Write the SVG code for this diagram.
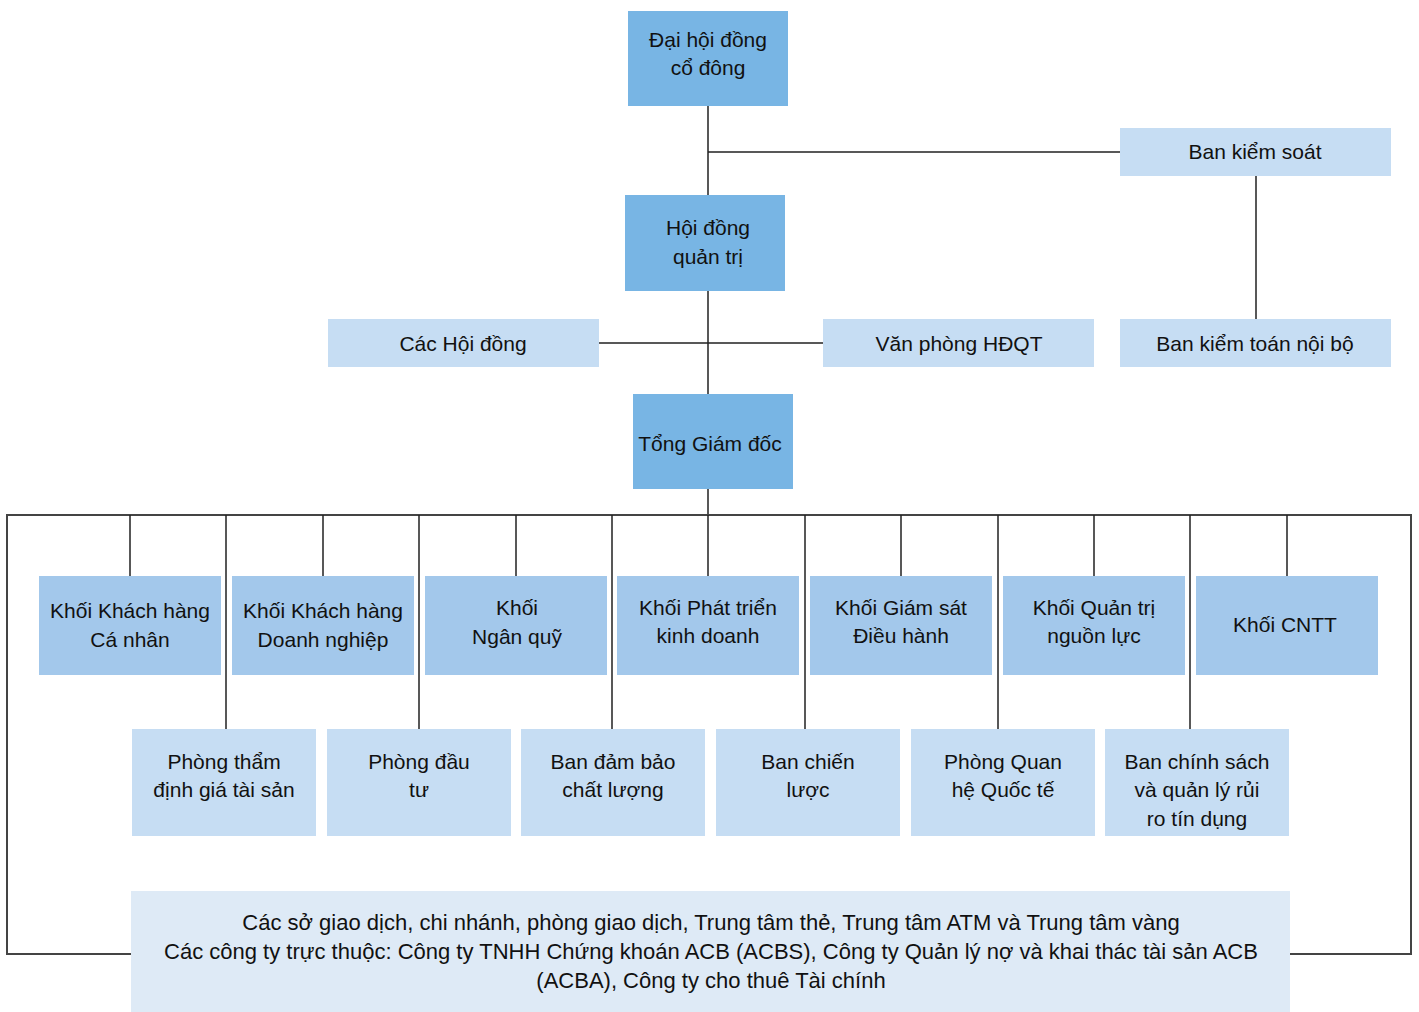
<svg xmlns="http://www.w3.org/2000/svg" width="1419" height="1012" viewBox="0 0 1419 1012">
<style>
.dk{fill:#78b5e4}
.lt{fill:#c6ddf3}
.md{fill:#a3c8eb}
.bt{fill:#deeaf6}
text{font-family:"Liberation Sans","Noto Sans",Arial,sans-serif;font-size:21px;fill:#111;text-anchor:middle}
.big{font-size:22px}
.ln{stroke:#222;stroke-width:1.5;fill:none}
.fr{stroke:#444;stroke-width:2;fill:none}
</style>
<rect width="1419" height="1012" fill="#fff"/>
<g id="connectors">
<path class="ln" d="M708 106V394M708 152H1120M1256 176V319M599 343H823M708 489V515"/>
<path class="fr" d="M131 954H7V515H1411V954H1290"/>
<path class="ln" d="M130 515V576M323 515V576M516 515V576M708 515V576M901 515V576M1094 515V576M1287 515V576"/>
<path class="ln" d="M226 515V729M419 515V729M612 515V729M805 515V729M998 515V729M1190 515V729"/>
</g>
<g id="n-dhdcd"><rect class="dk" x="628" y="11" width="160" height="95"/><text x="708" y="47">Đại hội đồng</text><text x="708" y="75">cổ đông</text></g>
<g id="n-bks"><rect class="lt" x="1120" y="128" width="271" height="48"/><text x="1255" y="159">Ban kiểm soát</text></g>
<g id="n-hdqt"><rect class="dk" x="625" y="195" width="160" height="96"/><text x="708" y="235">Hội đồng</text><text x="708" y="264">quản trị</text></g>
<g id="n-chd"><rect class="lt" x="328" y="319" width="271" height="48"/><text x="463" y="351">Các Hội đồng</text></g>
<g id="n-vp"><rect class="lt" x="823" y="319" width="271" height="48"/><text x="959" y="351">Văn phòng HĐQT</text></g>
<g id="n-bktnb"><rect class="lt" x="1120" y="319" width="271" height="48"/><text x="1255" y="351">Ban kiểm toán nội bộ</text></g>
<g id="n-tgd"><rect class="dk" x="633" y="394" width="160" height="95"/><text x="710" y="451">Tổng Giám đốc</text></g>
<g id="n-k1"><rect class="md" x="39" y="576" width="182" height="99"/><text x="130" y="618">Khối Khách hàng</text><text x="130" y="647">Cá nhân</text></g>
<g id="n-k2"><rect class="md" x="232" y="576" width="182" height="99"/><text x="323" y="618">Khối Khách hàng</text><text x="323" y="647">Doanh nghiệp</text></g>
<g id="n-k3"><rect class="md" x="425" y="576" width="182" height="99"/><text x="517" y="615">Khối</text><text x="517" y="644">Ngân quỹ</text></g>
<g id="n-k4"><rect class="md" x="617" y="576" width="182" height="99"/><text x="708" y="615">Khối Phát triển</text><text x="708" y="643">kinh doanh</text></g>
<g id="n-k5"><rect class="md" x="810" y="576" width="182" height="99"/><text x="901" y="615">Khối Giám sát</text><text x="901" y="643">Điều hành</text></g>
<g id="n-k6"><rect class="md" x="1003" y="576" width="182" height="99"/><text x="1094" y="615">Khối Quản trị</text><text x="1094" y="643">nguồn lực</text></g>
<g id="n-k7"><rect class="md" x="1196" y="576" width="182" height="99"/><text x="1285" y="632">Khối CNTT</text></g>
<g id="n-p1"><rect class="lt" x="132" y="729" width="184" height="107"/><text x="224" y="769">Phòng thẩm</text><text x="224" y="797">định giá tài sản</text></g>
<g id="n-p2"><rect class="lt" x="327" y="729" width="184" height="107"/><text x="419" y="769">Phòng đầu</text><text x="419" y="797">tư</text></g>
<g id="n-p3"><rect class="lt" x="521" y="729" width="184" height="107"/><text x="613" y="769">Ban đảm bảo</text><text x="613" y="797">chất lượng</text></g>
<g id="n-p4"><rect class="lt" x="716" y="729" width="184" height="107"/><text x="808" y="769">Ban chiến</text><text x="808" y="797">lược</text></g>
<g id="n-p5"><rect class="lt" x="911" y="729" width="184" height="107"/><text x="1003" y="769">Phòng Quan</text><text x="1003" y="797">hệ Quốc tế</text></g>
<g id="n-p6"><rect class="lt" x="1105" y="729" width="184" height="107"/><text x="1197" y="769">Ban chính sách</text><text x="1197" y="797">và quản lý rủi</text><text x="1197" y="826">ro tín dụng</text></g>
<g id="n-bottom"><rect class="bt" x="131" y="891" width="1159" height="121"/>
<text class="big" x="711" y="930">Các sở giao dịch, chi nhánh, phòng giao dịch, Trung tâm thẻ, Trung tâm ATM và Trung tâm vàng</text>
<text class="big" x="711" y="959">Các công ty trực thuộc: Công ty TNHH Chứng khoán ACB (ACBS), Công ty Quản lý nợ và khai thác tài sản ACB</text>
<text class="big" x="711" y="988">(ACBA), Công ty cho thuê Tài chính</text></g>
</svg>
